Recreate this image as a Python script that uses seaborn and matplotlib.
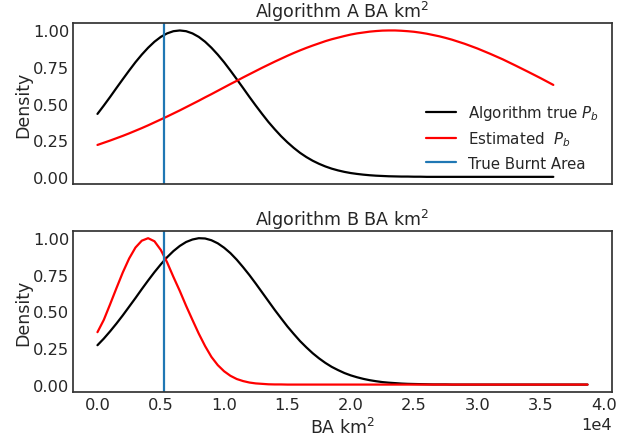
import numpy as np
import pandas as pd
import seaborn as sns
from matplotlib import pyplot as plt

# BA km2 sample positions
top_x = [0, 500, 1000, 1500, 2000, 2500, 3000, 3500, 4000, 4500,
         5000, 5500, 6000, 6500, 7000, 7500, 8000, 8500, 9000, 9500,
         10000, 10500, 11000, 11500, 12000, 12500, 13000, 13500, 14000, 14500,
         15000, 15500, 16000, 16500, 17000, 17500, 18000, 18500, 19000, 19500,
         20000, 20500, 21000, 21500, 22000, 22500, 23000, 23500, 24000, 24500,
         25000, 25500, 26000, 26500, 27000, 27500, 28000, 28500, 29000, 29500,
         30000, 31000, 32000, 33000, 34000, 35000, 36000]
bottom_x = [0, 500, 1000, 1500, 2000, 2500, 3000, 3500, 4000, 4500,
            5000, 5500, 6000, 6500, 7000, 7500, 8000, 8500, 9000, 9500,
            10000, 10500, 11000, 11500, 12000, 12500, 13000, 13500, 14000, 14500,
            15000, 15500, 16000, 16500, 17000, 17500, 18000, 18500, 19000, 19500,
            20000, 20500, 21000, 21500, 22000, 22500, 23000, 23500, 24000, 24500,
            25000, 25500, 26000, 26500, 27000, 27500, 28000, 28500, 29000, 29500,
            30000, 31000, 32000, 33000, 34000, 35000, 36000, 37000, 38000, 38700]

# Algorithm A
a_true = [0.430, 0.487, 0.546, 0.607, 0.667, 0.726, 0.783, 0.835, 0.882, 0.923,
          0.956, 0.980, 0.995, 1.000, 0.995, 0.980, 0.956, 0.923, 0.882, 0.835,
          0.783, 0.726, 0.667, 0.607, 0.546, 0.487, 0.430, 0.375, 0.325, 0.278,
          0.236, 0.198, 0.164, 0.135, 0.110, 0.089, 0.071, 0.056, 0.044, 0.034,
          0.026, 0.020, 0.015, 0.011, 0.008, 0.006, 0.004, 0.003, 0.002, 0.002,
          0.001, 0.001, 0.0, 0.0, 0.0, 0.0, 0.0, 0.0, 0.0, 0.0,
          0.0, 0.0, 0.0, 0.0, 0.0, 0.0, 0.0]
a_est = [0.218, 0.233, 0.248, 0.264, 0.280, 0.297, 0.315, 0.333, 0.352, 0.372,
         0.392, 0.412, 0.433, 0.454, 0.476, 0.498, 0.520, 0.543, 0.565, 0.588,
         0.611, 0.634, 0.656, 0.679, 0.701, 0.723, 0.745, 0.766, 0.787, 0.807,
         0.827, 0.846, 0.864, 0.881, 0.897, 0.912, 0.927, 0.940, 0.951, 0.962,
         0.972, 0.980, 0.986, 0.992, 0.996, 0.999, 1.000, 1.000, 0.998, 0.995,
         0.991, 0.985, 0.978, 0.969, 0.960, 0.949, 0.937, 0.923, 0.909, 0.893,
         0.877, 0.841, 0.803, 0.761, 0.718, 0.674, 0.628]

# Algorithm B
b_true = [0.269, 0.314, 0.364, 0.417, 0.473, 0.532, 0.591, 0.652, 0.711, 0.768,
          0.821, 0.870, 0.912, 0.947, 0.974, 0.991, 1.000, 0.998, 0.986, 0.965,
          0.935, 0.898, 0.853, 0.802, 0.748, 0.690, 0.630, 0.570, 0.510, 0.453,
          0.397, 0.346, 0.297, 0.254, 0.214, 0.179, 0.148, 0.121, 0.099, 0.079,
          0.063, 0.050, 0.039, 0.030, 0.023, 0.017, 0.013, 0.010, 0.007, 0.005,
          0.004, 0.003, 0.002, 0.001, 0.001, 0.001, 0.0, 0.0, 0.0, 0.0,
          0.0, 0.0, 0.0, 0.0, 0.0, 0.0, 0.0, 0.0, 0.0, 0.0]
b_est = [0.358, 0.442, 0.549, 0.659, 0.766, 0.861, 0.936, 0.983, 1.000, 0.979,
         0.920, 0.835, 0.735, 0.640, 0.538, 0.442, 0.348, 0.263, 0.189, 0.133,
         0.091, 0.060, 0.038, 0.024, 0.014, 0.008, 0.005, 0.002, 0.001, 0.001,
         0.0, 0.0, 0.0, 0.0, 0.0, 0.0, 0.0, 0.0, 0.0, 0.0,
         0.0, 0.0, 0.0, 0.0, 0.0, 0.0, 0.0, 0.0, 0.0, 0.0,
         0.0, 0.0, 0.0, 0.0, 0.0, 0.0, 0.0, 0.0, 0.0, 0.0,
         0.0, 0.0, 0.0, 0.0, 0.0, 0.0, 0.0, 0.0, 0.0, 0.0]

true_ba = 5230

labels = ["Algorithm true $P_b$", "Estimated  $P_b$", "True Burnt Area"]

sns.set_theme(style="white", context="notebook")
plt.rcParams.update({
    "xtick.major.size": 0, "ytick.major.size": 0,
    "xtick.major.pad": 4, "ytick.major.pad": 2.5,
    "xtick.labelsize": 11.7, "ytick.labelsize": 11.7,
    "axes.titlesize": 12.6, "axes.labelsize": 12.5,
    "legend.fontsize": 10.8,
})

fig, (ax1, ax2) = plt.subplots(2, 1, sharex=True, figsize=(6.29, 4.39), dpi=100)
fig.subplots_adjust(left=0.116, right=0.973, top=0.945, bottom=0.105, hspace=0.29)

panels = [
    (ax1, top_x, a_true, a_est, "Algorithm A BA km$^2$"),
    (ax2, bottom_x, b_true, b_est, "Algorithm B BA km$^2$"),
]
for ax, xs, y_true, y_est, title in panels:
    df = pd.DataFrame({"x": xs, "true": y_true, "est": y_est})
    sns.lineplot(data=df, x="x", y="true", color="black", lw=1.6, ax=ax)
    sns.lineplot(data=df, x="x", y="est", color="red", lw=1.6, ax=ax)
    ax.axvline(true_ba, color="tab:blue", lw=1.6)
    ax.set_title(title, pad=4.5)
    ax.set_ylabel("Density", labelpad=1)
    ax.set_yticks([0.0, 0.25, 0.5, 0.75, 1.0])
    for s in ax.spines.values():
        s.set_color("0.2")
        s.set_linewidth(1.25)

ax1.set_xlabel("")
ax2.set_xlabel("BA km$^2$", labelpad=3)
ax2.ticklabel_format(axis="x", style="sci", scilimits=(4, 4))

ax1.legend(ax1.get_lines()[:3], labels, loc="lower right", frameon=False)

plt.savefig("out.png", dpi=100)
plt.close()
